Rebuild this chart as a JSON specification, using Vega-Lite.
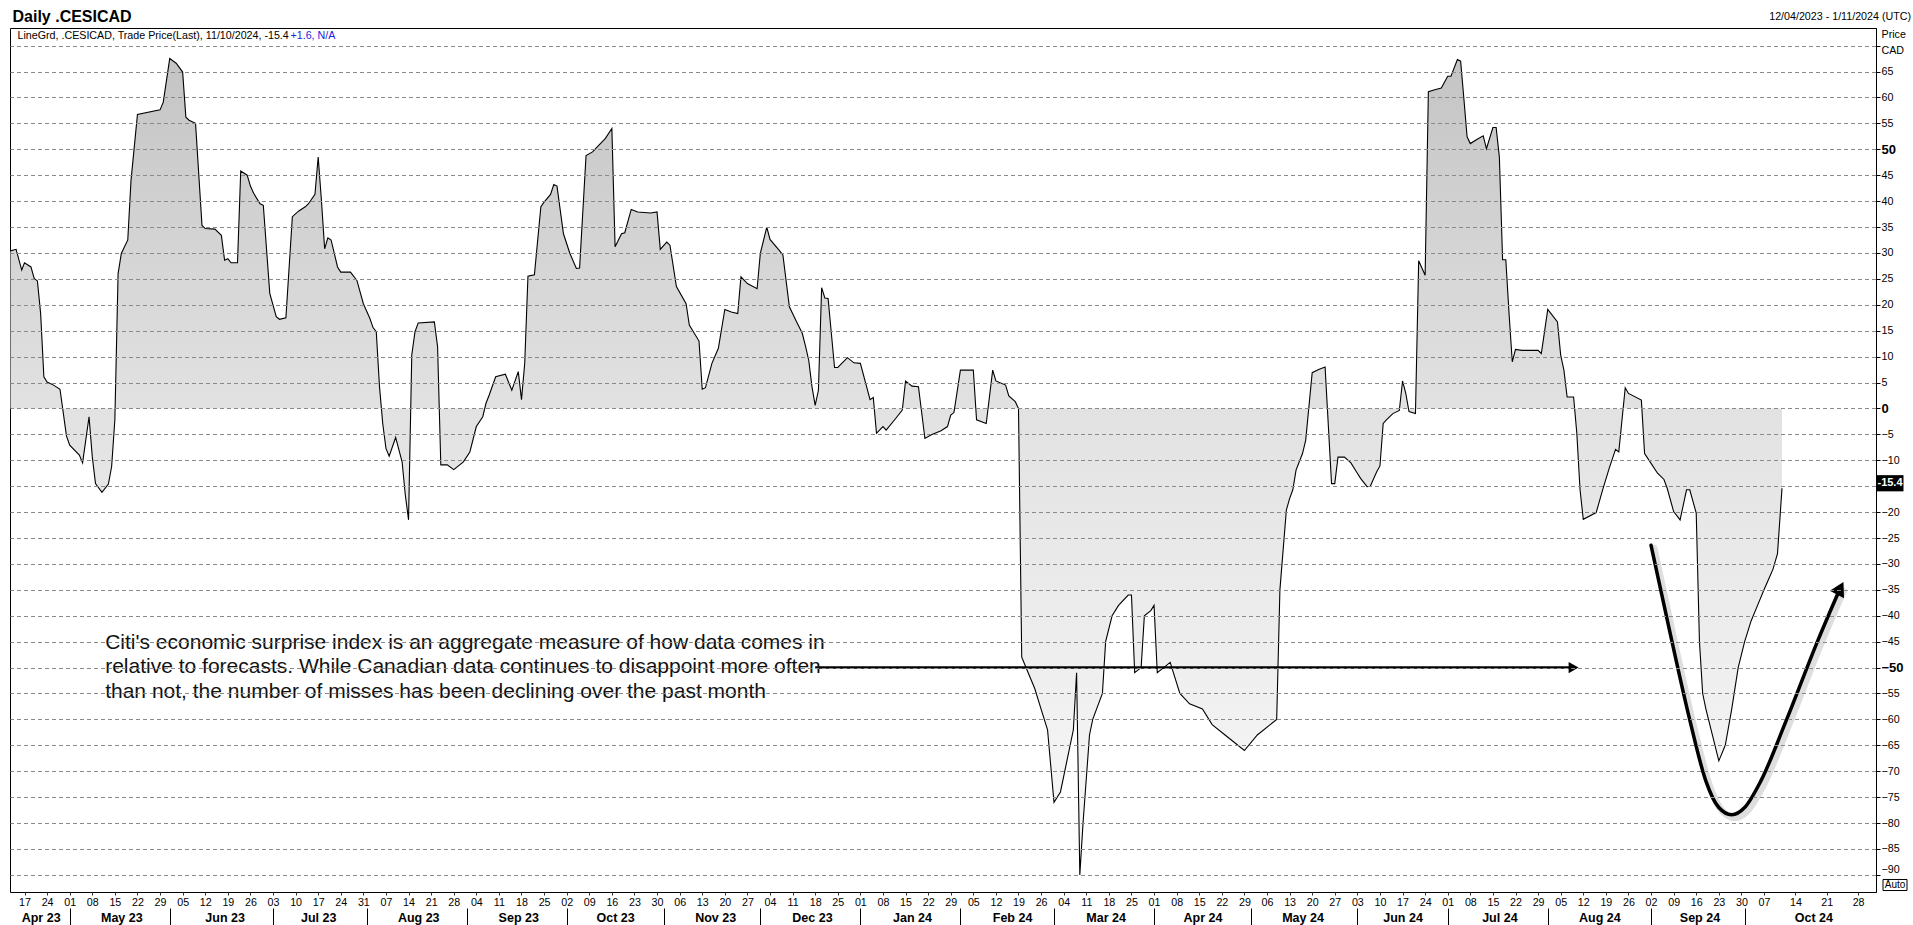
{
"$schema":"https://vega.github.io/schema/vega-lite/v6.json",
"width":1866,"height":864,
"autosize":{"type":"none"},
"padding":{"left":10,"top":28,"right":37,"bottom":33},
"background":"white",
"config":{"view":{"stroke":"black","strokeWidth":1},"font":"Liberation Sans","axis":{"labelFont":"Liberation Sans","titleFont":"Liberation Sans"},"text":{"font":"Liberation Sans"}},
"datasets":{
"cesi":[
{"date":"2023-04-12","value":30.4},{"date":"2023-04-14","value":30.7},{"date":"2023-04-16","value":26.7},{"date":"2023-04-17","value":28.1},{"date":"2023-04-19","value":27.3},{"date":"2023-04-20","value":25.1},{"date":"2023-04-21","value":24.6},{"date":"2023-04-22","value":18.3},{"date":"2023-04-23","value":6.1},{"date":"2023-04-24","value":5.1},{"date":"2023-04-26","value":4.5},{"date":"2023-04-28","value":3.7},{"date":"2023-04-30","value":-5.3},{"date":"2023-05-01","value":-7.1},{"date":"2023-05-04","value":-9.0},{"date":"2023-05-05","value":-10.5},{"date":"2023-05-07","value":-1.6},{"date":"2023-05-08","value":-9.3},{"date":"2023-05-09","value":-14.5},{"date":"2023-05-11","value":-16.2},{"date":"2023-05-13","value":-14.6},{"date":"2023-05-14","value":-11.2},{"date":"2023-05-15","value":-2.2},{"date":"2023-05-16","value":26.0},{"date":"2023-05-17","value":29.9},{"date":"2023-05-19","value":32.5},{"date":"2023-05-20","value":44.0},{"date":"2023-05-22","value":56.7},{"date":"2023-05-29","value":57.6},{"date":"2023-05-30","value":59.1},{"date":"2023-06-01","value":67.5},{"date":"2023-06-03","value":66.6},{"date":"2023-06-05","value":64.9},{"date":"2023-06-06","value":56.2},{"date":"2023-06-07","value":55.6},{"date":"2023-06-09","value":55.0},{"date":"2023-06-11","value":35.3},{"date":"2023-06-12","value":34.7},{"date":"2023-06-15","value":34.6},{"date":"2023-06-17","value":33.4},{"date":"2023-06-18","value":28.6},{"date":"2023-06-19","value":28.9},{"date":"2023-06-20","value":28.1},{"date":"2023-06-22","value":28.1},{"date":"2023-06-23","value":45.8},{"date":"2023-06-25","value":45.0},{"date":"2023-06-26","value":42.9},{"date":"2023-06-27","value":41.5},{"date":"2023-06-29","value":39.5},{"date":"2023-06-30","value":39.2},{"date":"2023-07-02","value":22.2},{"date":"2023-07-04","value":17.7},{"date":"2023-07-05","value":17.2},{"date":"2023-07-07","value":17.5},{"date":"2023-07-09","value":37.0},{"date":"2023-07-11","value":38.1},{"date":"2023-07-13","value":38.9},{"date":"2023-07-14","value":39.5},{"date":"2023-07-16","value":41.3},{"date":"2023-07-17","value":48.5},{"date":"2023-07-18","value":40.2},{"date":"2023-07-19","value":30.8},{"date":"2023-07-20","value":32.9},{"date":"2023-07-21","value":32.5},{"date":"2023-07-23","value":27.3},{"date":"2023-07-24","value":26.3},{"date":"2023-07-27","value":26.3},{"date":"2023-07-29","value":24.7},{"date":"2023-07-31","value":20.2},{"date":"2023-08-02","value":17.4},{"date":"2023-08-03","value":15.6},{"date":"2023-08-04","value":14.8},{"date":"2023-08-05","value":4.2},{"date":"2023-08-06","value":-2.9},{"date":"2023-08-07","value":-7.7},{"date":"2023-08-08","value":-9.2},{"date":"2023-08-10","value":-5.6},{"date":"2023-08-12","value":-10.3},{"date":"2023-08-13","value":-16.7},{"date":"2023-08-14","value":-21.5},{"date":"2023-08-15","value":10.3},{"date":"2023-08-16","value":14.8},{"date":"2023-08-17","value":16.5},{"date":"2023-08-22","value":16.7},{"date":"2023-08-23","value":11.9},{"date":"2023-08-24","value":-10.9},{"date":"2023-08-26","value":-10.9},{"date":"2023-08-28","value":-11.8},{"date":"2023-08-31","value":-10.3},{"date":"2023-09-02","value":-8.4},{"date":"2023-09-04","value":-3.5},{"date":"2023-09-06","value":-1.6},{"date":"2023-09-07","value":1.0},{"date":"2023-09-08","value":2.6},{"date":"2023-09-10","value":6.1},{"date":"2023-09-13","value":6.6},{"date":"2023-09-15","value":3.5},{"date":"2023-09-17","value":7.1},{"date":"2023-09-18","value":1.7},{"date":"2023-09-19","value":8.7},{"date":"2023-09-20","value":25.5},{"date":"2023-09-22","value":25.8},{"date":"2023-09-24","value":38.9},{"date":"2023-09-25","value":39.8},{"date":"2023-09-27","value":41.3},{"date":"2023-09-28","value":43.2},{"date":"2023-09-29","value":42.9},{"date":"2023-10-01","value":33.7},{"date":"2023-10-03","value":29.9},{"date":"2023-10-05","value":27.0},{"date":"2023-10-06","value":27.1},{"date":"2023-10-08","value":48.8},{"date":"2023-10-10","value":49.5},{"date":"2023-10-12","value":50.8},{"date":"2023-10-14","value":52.1},{"date":"2023-10-16","value":54.0},{"date":"2023-10-17","value":31.2},{"date":"2023-10-19","value":33.7},{"date":"2023-10-20","value":33.9},{"date":"2023-10-22","value":38.4},{"date":"2023-10-24","value":37.9},{"date":"2023-10-28","value":37.7},{"date":"2023-10-30","value":37.9},{"date":"2023-10-31","value":30.7},{"date":"2023-11-02","value":32.1},{"date":"2023-11-03","value":31.5},{"date":"2023-11-05","value":23.5},{"date":"2023-11-08","value":20.2},{"date":"2023-11-09","value":16.1},{"date":"2023-11-12","value":13.0},{"date":"2023-11-13","value":3.7},{"date":"2023-11-14","value":4.0},{"date":"2023-11-16","value":8.7},{"date":"2023-11-18","value":11.6},{"date":"2023-11-20","value":19.1},{"date":"2023-11-22","value":18.6},{"date":"2023-11-24","value":18.3},{"date":"2023-11-25","value":25.4},{"date":"2023-11-27","value":24.1},{"date":"2023-11-30","value":23.1},{"date":"2023-12-01","value":29.9},{"date":"2023-12-03","value":35.0},{"date":"2023-12-04","value":32.6},{"date":"2023-12-07","value":30.4},{"date":"2023-12-08","value":29.6},{"date":"2023-12-10","value":19.6},{"date":"2023-12-12","value":17.0},{"date":"2023-12-14","value":14.5},{"date":"2023-12-15","value":12.0},{"date":"2023-12-16","value":9.3},{"date":"2023-12-17","value":4.2},{"date":"2023-12-18","value":0.6},{"date":"2023-12-19","value":3.5},{"date":"2023-12-20","value":23.3},{"date":"2023-12-21","value":21.3},{"date":"2023-12-22","value":21.2},{"date":"2023-12-24","value":7.9},{"date":"2023-12-25","value":7.9},{"date":"2023-12-28","value":9.8},{"date":"2023-12-30","value":8.8},{"date":"2024-01-01","value":8.7},{"date":"2024-01-04","value":1.7},{"date":"2024-01-05","value":2.1},{"date":"2024-01-06","value":-4.8},{"date":"2024-01-08","value":-3.5},{"date":"2024-01-09","value":-4.2},{"date":"2024-01-12","value":-1.9},{"date":"2024-01-14","value":-0.3},{"date":"2024-01-15","value":5.3},{"date":"2024-01-17","value":4.3},{"date":"2024-01-19","value":4.2},{"date":"2024-01-21","value":-5.8},{"date":"2024-01-23","value":-5.1},{"date":"2024-01-26","value":-4.3},{"date":"2024-01-28","value":-3.5},{"date":"2024-01-29","value":-1.3},{"date":"2024-01-30","value":-0.8},{"date":"2024-02-01","value":7.4},{"date":"2024-02-05","value":7.4},{"date":"2024-02-06","value":-2.2},{"date":"2024-02-09","value":-2.9},{"date":"2024-02-11","value":7.4},{"date":"2024-02-12","value":5.3},{"date":"2024-02-15","value":4.5},{"date":"2024-02-16","value":2.4},{"date":"2024-02-18","value":1.3},{"date":"2024-02-19","value":0.0},
{"date":"2024-02-20","value":-48},{"date":"2024-02-22","value":-51},{"date":"2024-02-24","value":-54},{"date":"2024-02-26","value":-58},{"date":"2024-02-28","value":-62},{"date":"2024-03-01","value":-76},{"date":"2024-03-03","value":-74},{"date":"2024-03-05","value":-68},{"date":"2024-03-07","value":-62},{"date":"2024-03-08","value":-51},{"date":"2024-03-09","value":-90},{"date":"2024-03-10","value":-80},{"date":"2024-03-12","value":-63},{"date":"2024-03-13","value":-60},{"date":"2024-03-16","value":-55},{"date":"2024-03-17","value":-45},{"date":"2024-03-19","value":-40},{"date":"2024-03-21","value":-38},{"date":"2024-03-24","value":-36},{"date":"2024-03-25","value":-36},{"date":"2024-03-26","value":-51},{"date":"2024-03-28","value":-50},{"date":"2024-03-29","value":-40},{"date":"2024-03-31","value":-39},{"date":"2024-04-01","value":-38},{"date":"2024-04-02","value":-51},{"date":"2024-04-04","value":-50},{"date":"2024-04-06","value":-49},{"date":"2024-04-09","value":-55},{"date":"2024-04-12","value":-57},{"date":"2024-04-16","value":-58},{"date":"2024-04-19","value":-61},{"date":"2024-04-23","value":-63},{"date":"2024-04-29","value":-66},{"date":"2024-05-03","value":-63},{"date":"2024-05-07","value":-61},{"date":"2024-05-09","value":-60},{"date":"2024-05-10","value":-35},
{"date":"2024-05-12","value":-19.6},{"date":"2024-05-13","value":-17.4},{"date":"2024-05-14","value":-15.7},{"date":"2024-05-15","value":-11.9},{"date":"2024-05-17","value":-8.7},{"date":"2024-05-18","value":-6.1},{"date":"2024-05-20","value":6.9},{"date":"2024-05-22","value":7.5},{"date":"2024-05-24","value":8.0},{"date":"2024-05-26","value":-14.5},{"date":"2024-05-27","value":-14.5},{"date":"2024-05-28","value":-9.4},{"date":"2024-05-30","value":-9.4},{"date":"2024-06-01","value":-10.5},{"date":"2024-06-03","value":-12.5},{"date":"2024-06-04","value":-13.5},{"date":"2024-06-06","value":-15.1},{"date":"2024-06-07","value":-15.0},{"date":"2024-06-09","value":-12.2},{"date":"2024-06-10","value":-11.1},{"date":"2024-06-11","value":-2.9},{"date":"2024-06-12","value":-2.2},{"date":"2024-06-14","value":-1.0},{"date":"2024-06-16","value":-0.4},{"date":"2024-06-17","value":5.3},{"date":"2024-06-18","value":2.9},{"date":"2024-06-19","value":-0.6},{"date":"2024-06-21","value":-1.0},{"date":"2024-06-22","value":28.5},{"date":"2024-06-24","value":25.7},{"date":"2024-06-25","value":61.1},{"date":"2024-06-27","value":61.5},{"date":"2024-06-29","value":61.8},{"date":"2024-07-01","value":64.1},{"date":"2024-07-02","value":64.1},{"date":"2024-07-04","value":67.3},{"date":"2024-07-05","value":67.0},{"date":"2024-07-06","value":59.8},{"date":"2024-07-07","value":52.4},{"date":"2024-07-08","value":51.1},{"date":"2024-07-10","value":51.9},{"date":"2024-07-12","value":52.6},{"date":"2024-07-13","value":50.1},{"date":"2024-07-15","value":54.2},{"date":"2024-07-16","value":54.2},{"date":"2024-07-17","value":48.5},{"date":"2024-07-18","value":28.7},{"date":"2024-07-19","value":28.7},{"date":"2024-07-20","value":18.3},{"date":"2024-07-21","value":9.0},{"date":"2024-07-22","value":11.4},{"date":"2024-07-24","value":11.2},{"date":"2024-07-29","value":11.2},{"date":"2024-07-30","value":10.6},{"date":"2024-08-01","value":19.1},{"date":"2024-08-04","value":16.7},{"date":"2024-08-05","value":10.3},{"date":"2024-08-06","value":7.4},{"date":"2024-08-07","value":2.2},{"date":"2024-08-09","value":2.2},{"date":"2024-08-10","value":-4.8},{"date":"2024-08-11","value":-15.7},{"date":"2024-08-12","value":-21.4},{"date":"2024-08-16","value":-20.1},{"date":"2024-08-18","value":-15.7},{"date":"2024-08-20","value":-11.6},{"date":"2024-08-22","value":-7.9},{"date":"2024-08-23","value":-8.4},{"date":"2024-08-25","value":4.0},{"date":"2024-08-26","value":2.9},{"date":"2024-08-30","value":1.6},{"date":"2024-08-31","value":-8.7},{"date":"2024-09-02","value":-10.6},{"date":"2024-09-04","value":-12.5},{"date":"2024-09-06","value":-13.7},{"date":"2024-09-07","value":-15.4},{"date":"2024-09-09","value":-19.9},{"date":"2024-09-11","value":-21.5},{"date":"2024-09-13","value":-15.7},{"date":"2024-09-14","value":-15.7},{"date":"2024-09-16","value":-20.2},
{"date":"2024-09-17","value":-45},{"date":"2024-09-18","value":-55},{"date":"2024-09-19","value":-58},{"date":"2024-09-21","value":-63},{"date":"2024-09-23","value":-68},{"date":"2024-09-25","value":-65},{"date":"2024-09-27","value":-58},{"date":"2024-09-29","value":-50},{"date":"2024-10-01","value":-45},{"date":"2024-10-03","value":-41},{"date":"2024-10-05","value":-38},{"date":"2024-10-07","value":-35},{"date":"2024-10-08","value":-33},{"date":"2024-10-09","value":-31},{"date":"2024-10-10","value":-28},{"date":"2024-10-11","value":-15.4}
],
"harrow":[{"start":"2023-12-18","end":"2024-08-09","value":-50}],
"curve":[
{"date":"2024-09-02","value":-26.4},{"date":"2024-09-08","value":-43.6},{"date":"2024-09-14","value":-60.1},{"date":"2024-09-19","value":-71.9},{"date":"2024-09-23","value":-77.0},{"date":"2024-09-27","value":-78.4},{"date":"2024-10-01","value":-77.0},{"date":"2024-10-06","value":-71.9},{"date":"2024-10-12","value":-60.1},{"date":"2024-10-19","value":-44.8},{"date":"2024-10-24","value":-34.7}
],
"tip":[{"date":"2024-10-24","value":-34.7}]
},
"resolve":{"scale":{"x":"independent"},"axis":{"x":"independent","y":"independent"}},
"layer":[
{"data":{"name":"cesi"},
"mark":{"type":"area","line":false,"fill":{"gradient":"linear","x1":0,"y1":0,"x2":0,"y2":1,"stops":[{"offset":0,"color":"#c4c4c4"},{"offset":0.43,"color":"#e2e2e2"},{"offset":1,"color":"#f9f9f9"}]}},
"encoding":{
"x":{"field":"date","type":"temporal","scale":{"type":"utc","nice":false,"domain":{"expr":"[utc(2023,3,12),utc(2023,3,17),utc(2024,9,7),utc(2024,9,11),utc(2024,10,1)]"},"range":[0.5,14.5,1754,1772,1866]},
"axis":{"orient":"bottom","title":null,"format":"%d","grid":false,"domain":false,"tickSize":3,"tickColor":"#333333","labelFontSize":10.7,"labelColor":"black","labelPadding":2,"labelOverlap":false,"labelFlush":false,"labelBound":false,
"values":[{"year":2023,"month":4,"date":17,"utc":true},{"year":2023,"month":4,"date":24,"utc":true},{"year":2023,"month":5,"date":1,"utc":true},{"year":2023,"month":5,"date":8,"utc":true},{"year":2023,"month":5,"date":15,"utc":true},{"year":2023,"month":5,"date":22,"utc":true},{"year":2023,"month":5,"date":29,"utc":true},{"year":2023,"month":6,"date":5,"utc":true},{"year":2023,"month":6,"date":12,"utc":true},{"year":2023,"month":6,"date":19,"utc":true},{"year":2023,"month":6,"date":26,"utc":true},{"year":2023,"month":7,"date":3,"utc":true},{"year":2023,"month":7,"date":10,"utc":true},{"year":2023,"month":7,"date":17,"utc":true},{"year":2023,"month":7,"date":24,"utc":true},{"year":2023,"month":7,"date":31,"utc":true},{"year":2023,"month":8,"date":7,"utc":true},{"year":2023,"month":8,"date":14,"utc":true},{"year":2023,"month":8,"date":21,"utc":true},{"year":2023,"month":8,"date":28,"utc":true},{"year":2023,"month":9,"date":4,"utc":true},{"year":2023,"month":9,"date":11,"utc":true},{"year":2023,"month":9,"date":18,"utc":true},{"year":2023,"month":9,"date":25,"utc":true},{"year":2023,"month":10,"date":2,"utc":true},{"year":2023,"month":10,"date":9,"utc":true},{"year":2023,"month":10,"date":16,"utc":true},{"year":2023,"month":10,"date":23,"utc":true},{"year":2023,"month":10,"date":30,"utc":true},{"year":2023,"month":11,"date":6,"utc":true},{"year":2023,"month":11,"date":13,"utc":true},{"year":2023,"month":11,"date":20,"utc":true},{"year":2023,"month":11,"date":27,"utc":true},{"year":2023,"month":12,"date":4,"utc":true},{"year":2023,"month":12,"date":11,"utc":true},{"year":2023,"month":12,"date":18,"utc":true},{"year":2023,"month":12,"date":25,"utc":true},{"year":2024,"month":1,"date":1,"utc":true},{"year":2024,"month":1,"date":8,"utc":true},{"year":2024,"month":1,"date":15,"utc":true},{"year":2024,"month":1,"date":22,"utc":true},{"year":2024,"month":1,"date":29,"utc":true},{"year":2024,"month":2,"date":5,"utc":true},{"year":2024,"month":2,"date":12,"utc":true},{"year":2024,"month":2,"date":19,"utc":true},{"year":2024,"month":2,"date":26,"utc":true},{"year":2024,"month":3,"date":4,"utc":true},{"year":2024,"month":3,"date":11,"utc":true},{"year":2024,"month":3,"date":18,"utc":true},{"year":2024,"month":3,"date":25,"utc":true},{"year":2024,"month":4,"date":1,"utc":true},{"year":2024,"month":4,"date":8,"utc":true},{"year":2024,"month":4,"date":15,"utc":true},{"year":2024,"month":4,"date":22,"utc":true},{"year":2024,"month":4,"date":29,"utc":true},{"year":2024,"month":5,"date":6,"utc":true},{"year":2024,"month":5,"date":13,"utc":true},{"year":2024,"month":5,"date":20,"utc":true},{"year":2024,"month":5,"date":27,"utc":true},{"year":2024,"month":6,"date":3,"utc":true},{"year":2024,"month":6,"date":10,"utc":true},{"year":2024,"month":6,"date":17,"utc":true},{"year":2024,"month":6,"date":24,"utc":true},{"year":2024,"month":7,"date":1,"utc":true},{"year":2024,"month":7,"date":8,"utc":true},{"year":2024,"month":7,"date":15,"utc":true},{"year":2024,"month":7,"date":22,"utc":true},{"year":2024,"month":7,"date":29,"utc":true},{"year":2024,"month":8,"date":5,"utc":true},{"year":2024,"month":8,"date":12,"utc":true},{"year":2024,"month":8,"date":19,"utc":true},{"year":2024,"month":8,"date":26,"utc":true},{"year":2024,"month":9,"date":2,"utc":true},{"year":2024,"month":9,"date":9,"utc":true},{"year":2024,"month":9,"date":16,"utc":true},{"year":2024,"month":9,"date":23,"utc":true},{"year":2024,"month":9,"date":30,"utc":true},{"year":2024,"month":10,"date":7,"utc":true},{"year":2024,"month":10,"date":14,"utc":true},{"year":2024,"month":10,"date":21,"utc":true},{"year":2024,"month":10,"date":28,"utc":true}]}},
"y":{"field":"value","type":"quantitative","scale":{"domain":[-93.3,73.4],"nice":false,"zero":false},"axis":null},
"y2":{"datum":0}}},
{"data":{"name":"cesi"},
"mark":{"type":"line","color":"black","strokeWidth":1.1},
"encoding":{
"x":{"field":"date","type":"temporal","scale":{"type":"utc","nice":false,"domain":{"expr":"[utc(2023,3,12),utc(2023,3,17),utc(2024,9,7),utc(2024,9,11),utc(2024,10,1)]"},"range":[0.5,14.5,1754,1772,1866]},
"axis":{"orient":"bottom","title":null,"format":"%b %y","grid":false,"domain":false,"ticks":false,"tickSize":0,"labelFontSize":12.5,"labelFontWeight":"bold","labelColor":"black","labelPadding":19,"labelOverlap":false,"labelFlush":false,"labelBound":false,
"values":[{"year":2023,"month":4,"date":22,"utc":true},{"year":2023,"month":5,"date":17,"utc":true},{"year":2023,"month":6,"date":18,"utc":true},{"year":2023,"month":7,"date":17,"utc":true},{"year":2023,"month":8,"date":17,"utc":true},{"year":2023,"month":9,"date":17,"utc":true},{"year":2023,"month":10,"date":17,"utc":true},{"year":2023,"month":11,"date":17,"utc":true},{"year":2023,"month":12,"date":17,"utc":true},{"year":2024,"month":1,"date":17,"utc":true},{"year":2024,"month":2,"date":17,"utc":true},{"year":2024,"month":3,"date":17,"utc":true},{"year":2024,"month":4,"date":16,"utc":true},{"year":2024,"month":5,"date":17,"utc":true},{"year":2024,"month":6,"date":17,"utc":true},{"year":2024,"month":7,"date":17,"utc":true},{"year":2024,"month":8,"date":17,"utc":true},{"year":2024,"month":9,"date":17,"utc":true},{"year":2024,"month":10,"date":18,"utc":true}]}},
"y":{"field":"value","type":"quantitative","scale":{"domain":[-93.3,73.4],"nice":false,"zero":false},
"axis":{"orient":"right","zindex":1,"values":[-90,-85,-80,-75,-70,-65,-60,-55,-50,-45,-40,-35,-30,-25,-20,-15,-10,-5,0,5,10,15,20,25,30,35,40,45,50,55,60,65,70],
"labelExpr":"datum.value === 70 || datum.value === -15 ? '' : datum.label",
"grid":true,"gridDash":[4,3],"gridColor":"#8a8a8a","gridWidth":1,"domainColor":"black","tickColor":"black","tickSize":4,"labelPadding":1,"labelColor":"black",
"labelBaseline":{"condition":{"test":"datum.value === -90","value":"bottom"},"value":"middle"},
"labelFontSize":{"condition":{"test":"datum.value === 0 || abs(datum.value) === 50","value":13},"value":10.7},
"labelFontWeight":{"condition":{"test":"datum.value === 0 || abs(datum.value) === 50","value":"bold"},"value":"normal"},
"title":["Price","CAD"],"titleAngle":0,"titleAlign":"left","titleBaseline":"top","titleX":5,"titleY":1,"titleFontSize":10.7,"titleFontWeight":"normal","titleLineHeight":16,"titleColor":"black","titlePadding":0}}}},
{"data":{"name":"harrow"},
"mark":{"type":"rule","color":"black","strokeWidth":2.5},
"encoding":{
"x":{"field":"start","type":"temporal","scale":{"type":"utc","nice":false,"domain":{"expr":"[utc(2023,3,12),utc(2023,3,17),utc(2024,9,7),utc(2024,9,11),utc(2024,10,1)]"},"range":[0.5,14.5,1754,1772,1866]},
"axis":{"orient":"bottom","title":null,"labels":false,"grid":false,"domain":false,"tickSize":17,"tickColor":"black","tickWidth":1,"offset":16,
"values":[{"year":2023,"month":5,"date":1,"utc":true},{"year":2023,"month":6,"date":1,"utc":true},{"year":2023,"month":7,"date":3,"utc":true},{"year":2023,"month":8,"date":1,"utc":true},{"year":2023,"month":9,"date":1,"utc":true},{"year":2023,"month":10,"date":2,"utc":true},{"year":2023,"month":11,"date":1,"utc":true},{"year":2023,"month":12,"date":1,"utc":true},{"year":2024,"month":1,"date":1,"utc":true},{"year":2024,"month":2,"date":1,"utc":true},{"year":2024,"month":3,"date":1,"utc":true},{"year":2024,"month":4,"date":1,"utc":true},{"year":2024,"month":5,"date":1,"utc":true},{"year":2024,"month":6,"date":3,"utc":true},{"year":2024,"month":7,"date":1,"utc":true},{"year":2024,"month":8,"date":1,"utc":true},{"year":2024,"month":9,"date":2,"utc":true},{"year":2024,"month":10,"date":1,"utc":true}]}},
"x2":{"field":"end"},
"y":{"field":"value","type":"quantitative","scale":{"domain":[-93.3,73.4],"nice":false,"zero":false},"axis":null}}},
{"data":{"name":"harrow"},
"mark":{"type":"point","shape":"triangle-right","filled":true,"color":"black","opacity":1,"size":130},
"encoding":{
"x":{"field":"end","type":"temporal","scale":{"type":"utc","nice":false,"domain":{"expr":"[utc(2023,3,12),utc(2023,3,17),utc(2024,9,7),utc(2024,9,11),utc(2024,10,1)]"},"range":[0.5,14.5,1754,1772,1866]},"axis":null},
"y":{"field":"value","type":"quantitative","scale":{"domain":[-93.3,73.4],"nice":false,"zero":false},"axis":null}}},
{"data":{"name":"curve"},
"mark":{"type":"line","color":"black","strokeWidth":7,"opacity":0.13,"interpolate":"monotone","xOffset":3,"yOffset":3,"strokeCap":"round"},
"encoding":{
"x":{"field":"date","type":"temporal","scale":{"type":"utc","nice":false,"domain":{"expr":"[utc(2023,3,12),utc(2023,3,17),utc(2024,9,7),utc(2024,9,11),utc(2024,10,1)]"},"range":[0.5,14.5,1754,1772,1866]},"axis":null},
"y":{"field":"value","type":"quantitative","scale":{"domain":[-93.3,73.4],"nice":false,"zero":false},"axis":null}}},
{"data":{"name":"curve"},
"mark":{"type":"line","color":"black","strokeWidth":3.5,"interpolate":"monotone","strokeCap":"round"},
"encoding":{
"x":{"field":"date","type":"temporal","scale":{"type":"utc","nice":false,"domain":{"expr":"[utc(2023,3,12),utc(2023,3,17),utc(2024,9,7),utc(2024,9,11),utc(2024,10,1)]"},"range":[0.5,14.5,1754,1772,1866]},"axis":null},
"y":{"field":"value","type":"quantitative","scale":{"domain":[-93.3,73.4],"nice":false,"zero":false},"axis":null}}},
{"data":{"name":"tip"},
"mark":{"type":"point","shape":"triangle-up","filled":true,"color":"black","opacity":1,"size":260,"angle":28},
"encoding":{
"x":{"field":"date","type":"temporal","scale":{"type":"utc","nice":false,"domain":{"expr":"[utc(2023,3,12),utc(2023,3,17),utc(2024,9,7),utc(2024,9,11),utc(2024,10,1)]"},"range":[0.5,14.5,1754,1772,1866]},"axis":null},
"y":{"field":"value","type":"quantitative","scale":{"domain":[-93.3,73.4],"nice":false,"zero":false},"axis":null}}},
{"data":{"values":[{}]},
"mark":{"type":"text","align":"left","baseline":"alphabetic","fontSize":21,"lineHeight":24.4,"color":"#111111","text":["Citi's economic surprise index is an aggregate measure of how data comes in","relative to forecasts. While Canadian data continues to disappoint more often","than not, the number of misses has been declining over the past month"]},
"encoding":{
"x":{"datum":{"year":2023,"month":5,"date":12,"utc":true},"type":"temporal","scale":{"type":"utc","nice":false,"domain":{"expr":"[utc(2023,3,12),utc(2023,3,17),utc(2024,9,7),utc(2024,9,11),utc(2024,10,1)]"},"range":[0.5,14.5,1754,1772,1866]},"axis":null},
"y":{"datum":-46.4,"type":"quantitative","scale":{"domain":[-93.3,73.4],"nice":false,"zero":false},"axis":null}}},
{"data":{"values":[{}]},
"mark":{"type":"text","align":"left","baseline":"middle","fontSize":16,"fontWeight":"bold","color":"black","dx":2,"text":"Daily .CESICAD"},
"encoding":{
"x":{"datum":{"year":2023,"month":4,"date":12,"utc":true},"type":"temporal","scale":{"type":"utc","nice":false,"domain":{"expr":"[utc(2023,3,12),utc(2023,3,17),utc(2024,9,7),utc(2024,9,11),utc(2024,10,1)]"},"range":[0.5,14.5,1754,1772,1866]},"axis":null},
"y":{"datum":75.5,"type":"quantitative","scale":{"domain":[-93.3,73.4],"nice":false,"zero":false},"axis":null}}},
{"data":{"values":[{}]},
"mark":{"type":"text","align":"left","baseline":"middle","fontSize":10.7,"color":"black","dx":7,"text":"LineGrd, .CESICAD, Trade Price(Last), 11/10/2024, -15.4"},
"encoding":{
"x":{"datum":{"year":2023,"month":4,"date":12,"utc":true},"type":"temporal","scale":{"type":"utc","nice":false,"domain":{"expr":"[utc(2023,3,12),utc(2023,3,17),utc(2024,9,7),utc(2024,9,11),utc(2024,10,1)]"},"range":[0.5,14.5,1754,1772,1866]},"axis":null},
"y":{"datum":71.8,"type":"quantitative","scale":{"domain":[-93.3,73.4],"nice":false,"zero":false},"axis":null}}},
{"data":{"values":[{}]},
"mark":{"type":"text","align":"left","baseline":"middle","fontSize":10.7,"color":"#2222dd","dx":280,"text":"+1.6, N/A"},
"encoding":{
"x":{"datum":{"year":2023,"month":4,"date":12,"utc":true},"type":"temporal","scale":{"type":"utc","nice":false,"domain":{"expr":"[utc(2023,3,12),utc(2023,3,17),utc(2024,9,7),utc(2024,9,11),utc(2024,10,1)]"},"range":[0.5,14.5,1754,1772,1866]},"axis":null},
"y":{"datum":71.8,"type":"quantitative","scale":{"domain":[-93.3,73.4],"nice":false,"zero":false},"axis":null}}},
{"data":{"values":[{}]},
"mark":{"type":"text","align":"right","baseline":"middle","fontSize":10.7,"color":"black","dx":35,"text":"12/04/2023 - 1/11/2024 (UTC)"},
"encoding":{
"x":{"datum":{"year":2024,"month":11,"date":1,"utc":true},"type":"temporal","scale":{"type":"utc","nice":false,"domain":{"expr":"[utc(2023,3,12),utc(2023,3,17),utc(2024,9,7),utc(2024,9,11),utc(2024,10,1)]"},"range":[0.5,14.5,1754,1772,1866]},"axis":null},
"y":{"datum":75.5,"type":"quantitative","scale":{"domain":[-93.3,73.4],"nice":false,"zero":false},"axis":null}}},
{"data":{"values":[{}]},
"mark":{"type":"point","shape":"M-1,-0.6L1,-0.6L1,0.6L-1,0.6Z","filled":true,"color":"black","opacity":1,"size":729,"xOffset":14,"yOffset":-5},
"encoding":{
"x":{"datum":{"year":2024,"month":11,"date":1,"utc":true},"type":"temporal","scale":{"type":"utc","nice":false,"domain":{"expr":"[utc(2023,3,12),utc(2023,3,17),utc(2024,9,7),utc(2024,9,11),utc(2024,10,1)]"},"range":[0.5,14.5,1754,1772,1866]},"axis":null},
"y":{"datum":-15.4,"type":"quantitative","scale":{"domain":[-93.3,73.4],"nice":false,"zero":false},"axis":null}}},
{"data":{"values":[{}]},
"mark":{"type":"text","align":"center","baseline":"middle","fontSize":11,"fontWeight":"bold","color":"white","dx":14,"dy":-5,"text":"-15.4"},
"encoding":{
"x":{"datum":{"year":2024,"month":11,"date":1,"utc":true},"type":"temporal","scale":{"type":"utc","nice":false,"domain":{"expr":"[utc(2023,3,12),utc(2023,3,17),utc(2024,9,7),utc(2024,9,11),utc(2024,10,1)]"},"range":[0.5,14.5,1754,1772,1866]},"axis":null},
"y":{"datum":-15.4,"type":"quantitative","scale":{"domain":[-93.3,73.4],"nice":false,"zero":false},"axis":null}}},
{"data":{"values":[{}]},
"mark":{"type":"point","shape":"M-1,-0.46L1,-0.46L1,0.46L-1,0.46Z","filled":true,"fill":"white","stroke":"black","strokeWidth":1,"opacity":1,"size":576,"xOffset":19,"yOffset":-7},
"encoding":{
"x":{"datum":{"year":2024,"month":11,"date":1,"utc":true},"type":"temporal","scale":{"type":"utc","nice":false,"domain":{"expr":"[utc(2023,3,12),utc(2023,3,17),utc(2024,9,7),utc(2024,9,11),utc(2024,10,1)]"},"range":[0.5,14.5,1754,1772,1866]},"axis":null},
"y":{"datum":-93.3,"type":"quantitative","scale":{"domain":[-93.3,73.4],"nice":false,"zero":false},"axis":null}}},
{"data":{"values":[{}]},
"mark":{"type":"text","align":"center","baseline":"middle","fontSize":10,"color":"black","dx":19,"dy":-7,"text":"Auto"},
"encoding":{
"x":{"datum":{"year":2024,"month":11,"date":1,"utc":true},"type":"temporal","scale":{"type":"utc","nice":false,"domain":{"expr":"[utc(2023,3,12),utc(2023,3,17),utc(2024,9,7),utc(2024,9,11),utc(2024,10,1)]"},"range":[0.5,14.5,1754,1772,1866]},"axis":null},
"y":{"datum":-93.3,"type":"quantitative","scale":{"domain":[-93.3,73.4],"nice":false,"zero":false},"axis":null}}}
]
}
